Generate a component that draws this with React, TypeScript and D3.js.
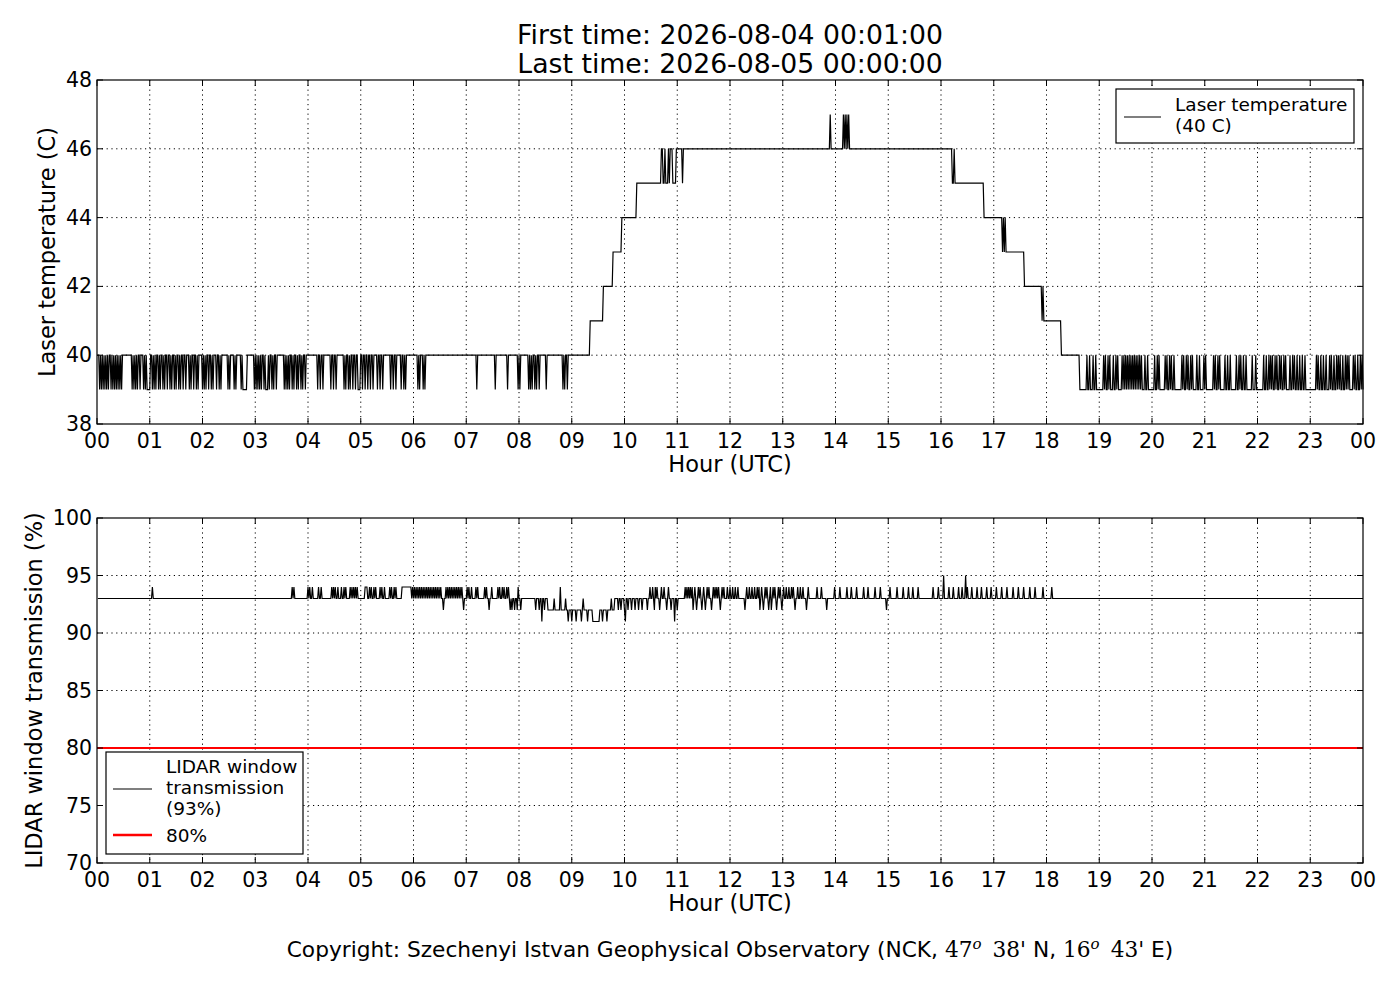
import { useMemo } from 'react';
import * as d3 from 'd3';

// Hour ticks (UTC) shared by both panels
const hourTicks = [0, 1, 2, 3, 4, 5, 6, 7, 8, 9, 10, 11, 12, 13, 14, 15, 16, 17, 18, 19, 20, 21, 22, 23, 24];
const hourTickLabels = ['00', '01', '02', '03', '04', '05', '06', '07', '08', '09', '10', '11', '12', '13', '14', '15', '16', '17', '18', '19', '20', '21', '22', '23', '00'];

const tempTicks = [38, 40, 42, 44, 46, 48];
const transTicks = [70, 75, 80, 85, 90, 95, 100];

// Laser temperature: level changes [minute of day, degC]
const laserSteps: [number, number][] = [
  [0, 40], [561, 41], [576, 42], [587, 43], [597, 44], [614, 45], [652, 46],
  [973, 45], [1009, 44], [1030, 43], [1055, 42], [1075, 41], [1097, 40], [1118, 39],
];

// single-minute readings one degree below the level
const laserDips = [
  3, 5, 7, 9, 11, 13, 16, 18, 20, 22, 24, 26, 28, 40, 42, 44, 46, 49, 53, 55, 57, 58, 59, 60,
  63, 65, 67, 70, 72, 75, 77, 80, 83, 85, 88, 90, 93, 95, 98, 101, 105, 107, 110, 113, 115,
  120, 122, 124, 127, 130, 132, 136, 139, 141, 149, 151, 156, 158, 164, 166, 167, 168, 169, 170,
  179, 181, 183, 185, 187, 190, 192, 193, 194, 196, 199, 201, 204, 213, 215, 217, 219, 222, 224,
  227, 229, 232, 234, 237, 251, 254, 257, 266, 269, 272, 281, 283, 286, 288, 291, 294, 297, 298,
  299, 302, 305, 308, 311, 314, 319, 322, 325, 334, 337, 340, 346, 349, 351, 365, 367, 371, 373,
  432, 453, 467, 479, 481, 491, 493, 495, 498, 500, 503, 511, 530, 532, 535,
  655, 656, 657, 658, 666,
];

// single-minute readings one degree above the level
const laserSpikes = [
  642, 643, 646, 650, 834, 849, 851, 853, 855, 975, 1031, 1033, 1076,
  1126, 1129, 1133, 1136, 1145, 1147, 1150, 1152, 1156, 1159, 1161, 1166, 1168, 1170, 1172, 1174,
  1176, 1178, 1180, 1182, 1184, 1186, 1188, 1192, 1195, 1203, 1206, 1208, 1215, 1217, 1220, 1222,
  1225, 1234, 1236, 1239, 1241, 1244, 1246, 1251, 1254, 1259, 1261, 1270, 1272, 1275, 1277, 1283,
  1286, 1289, 1296, 1299, 1301, 1304, 1307, 1314, 1318, 1327, 1330, 1333, 1335, 1337, 1340, 1342,
  1345, 1347, 1350, 1352, 1357, 1360, 1362, 1365, 1368, 1371, 1374, 1387, 1389, 1392, 1395, 1398,
  1402, 1404, 1407, 1410, 1412, 1414, 1417, 1420, 1422, 1424, 1429, 1431, 1434, 1437, 1439,
];

// LIDAR window transmission: level changes [minute, %]
const windowSteps: [number, number][] = [[0, 93], [513, 92], [589, 93]];

// single-minute readings [minute, %]
const windowEvents: [number, number][] = [
  [63, 94], [222, 94], [224, 94], [240, 94], [242, 94], [245, 94], [252, 94], [255, 94],
  [267, 94], [269, 94], [271, 94], [274, 94], [278, 94], [281, 94], [283, 94],
  [288, 94], [290, 94], [292, 94], [294, 94], [296, 94],
  [305, 94], [306, 94], [307, 94], [310, 94], [312, 94], [315, 94], [317, 94],
  [322, 94], [324, 94], [327, 94], [333, 94], [335, 94], [338, 94], [340, 94],
  [347, 94], [348, 94], [349, 94], [350, 94], [351, 94], [352, 94], [353, 94], [354, 94],
  [355, 94], [356, 94], [357, 94],
  [359, 94], [361, 94], [363, 94], [365, 94], [367, 94], [369, 94], [371, 94], [373, 94],
  [375, 94], [377, 94], [379, 94], [381, 94], [383, 94], [385, 94], [387, 94], [389, 94],
  [391, 94], [394, 92], [397, 94], [399, 94], [401, 94], [403, 94], [405, 94], [407, 94],
  [409, 94], [411, 94], [413, 94], [415, 94], [417, 92],
  [421, 94], [423, 94], [426, 94], [431, 94], [433, 94], [441, 94], [443, 94], [446, 92], [449, 94],
  [456, 94], [458, 94], [461, 94], [463, 94], [466, 94], [468, 94],
  [470, 92], [472, 92], [475, 92], [478, 92], [479, 94], [482, 92],
  [499, 92], [503, 92], [506, 91], [509, 92],
  [520, 93], [527, 94], [533, 93], [536, 91], [540, 91], [545, 91], [551, 91], [553, 93], [558, 91],
  [564, 91], [565, 91], [566, 91], [567, 91], [568, 91], [569, 91], [570, 91], [571, 91],
  [575, 91], [580, 91], [585, 93],
  [593, 92], [596, 92], [600, 92], [601, 91], [604, 92], [608, 92], [612, 92], [616, 92],
  [620, 92], [626, 92], [629, 94], [632, 94], [634, 92], [635, 94], [637, 94], [640, 92],
  [642, 94], [645, 94], [648, 92], [650, 94], [653, 92], [657, 91], [660, 92],
  [669, 94], [671, 94], [673, 94], [675, 94], [677, 94], [678, 92], [680, 94], [682, 92],
  [684, 94], [686, 94], [688, 92], [690, 94], [692, 92], [694, 94], [696, 94], [699, 92],
  [701, 94], [703, 94], [705, 94], [707, 94], [709, 92], [711, 94], [713, 94],
  [717, 94], [720, 94], [723, 94], [726, 94], [729, 94], [737, 92],
  [739, 94], [742, 94], [745, 94], [748, 94],
  [751, 94], [753, 94], [754, 92], [756, 94], [758, 92], [760, 94], [762, 94], [764, 92],
  [766, 94], [767, 92], [769, 94], [771, 94], [773, 92], [775, 94], [777, 94], [779, 92], [781, 94],
  [784, 94], [787, 94], [790, 94], [792, 94], [794, 92], [797, 94], [800, 94], [803, 94], [807, 92],
  [809, 94], [819, 94], [824, 94], [830, 92],
  [839, 94], [845, 94], [853, 94], [858, 94], [864, 94], [872, 94], [877, 94], [885, 94], [891, 94],
  [898, 92], [902, 94], [910, 94], [917, 94], [923, 94], [928, 94], [934, 94],
  [951, 94], [957, 94], [963, 95], [969, 94], [974, 94], [980, 94], [984, 94], [988, 95], [990, 94],
  [995, 94], [1001, 94], [1006, 94], [1012, 94], [1017, 94], [1023, 94], [1029, 94], [1035, 94],
  [1042, 94], [1048, 94], [1054, 94], [1061, 94], [1067, 94], [1076, 94], [1086, 94],
];

const FONT = '"DejaVu Sans", sans-serif';
const MATH = '"DejaVu Serif", "Liberation Serif", serif';

const left = 97;
const right = 1363;
const topPanel = { y0: 80, y1: 424 };
const botPanel = { y0: 518, y1: 863 };

function levelAt(steps: [number, number][], m: number) {
  let v = steps[0][1];
  for (const [s, val] of steps) if (m >= s) v = val;
  return v;
}

// sampled each minute from 00:01 to 24:00
function laserSeries() {
  const dips = new Set(laserDips);
  const spikes = new Set(laserSpikes);
  const out: [number, number][] = [];
  for (let m = 1; m <= 1440; m++) {
    let v = levelAt(laserSteps, m);
    if (dips.has(m)) v -= 1;
    if (spikes.has(m)) v += 1;
    out.push([m, v]);
  }
  return out;
}

function windowSeries() {
  const ev = new Map(windowEvents);
  const out: [number, number][] = [];
  for (let m = 1; m <= 1440; m++) {
    out.push([m, ev.has(m) ? (ev.get(m) as number) : levelAt(windowSteps, m)]);
  }
  return out;
}

function Panel({
  y0, y1, yDomain, yTicks, data, yLabel, labelX, children,
}: {
  y0: number; y1: number; yDomain: [number, number]; yTicks: number[];
  data: [number, number][]; yLabel: string; labelX: number; children?: any;
}) {
  const x = d3.scaleLinear().domain([0, 24]).range([left, right]);
  const y = d3.scaleLinear().domain(yDomain).range([y1, y0]);
  const line = d3.line<[number, number]>().x((d) => x(d[0] / 60)).y((d) => y(d[1]));
  const tick = 6;
  return (
    <g>
      {/* grid */}
      {hourTicks.slice(1, -1).map((h) => (
        <line key={'gx' + h} x1={x(h)} x2={x(h)} y1={y0} y2={y1} stroke="#000" strokeWidth={1} strokeDasharray="1.2,3.6" />
      ))}
      {yTicks.slice(1, -1).map((t) => (
        <line key={'gy' + t} x1={left} x2={right} y1={y(t)} y2={y(t)} stroke="#000" strokeWidth={1} strokeDasharray="1.2,3.6" />
      ))}
      <path d={line(data) || ''} fill="none" stroke="#000" strokeWidth={1.2} />
      {children && children(x, y)}
      {/* ticks, inward on all four sides */}
      {hourTicks.map((h) => (
        <g key={'tx' + h}>
          <line x1={x(h)} x2={x(h)} y1={y1} y2={y1 - tick} stroke="#000" />
          <line x1={x(h)} x2={x(h)} y1={y0} y2={y0 + tick} stroke="#000" />
        </g>
      ))}
      {yTicks.map((t) => (
        <g key={'ty' + t}>
          <line x1={left} x2={left + tick} y1={y(t)} y2={y(t)} stroke="#000" />
          <line x1={right} x2={right - tick} y1={y(t)} y2={y(t)} stroke="#000" />
        </g>
      ))}
      <rect x={left} y={y0} width={right - left} height={y1 - y0} fill="none" stroke="#000" strokeWidth={1.2} />
      {hourTicks.map((h, i) => (
        <text key={'lx' + h} x={x(h)} y={y1 + 24} textAnchor="middle" fontSize={20.5} fontFamily={FONT}>
          {hourTickLabels[i]}
        </text>
      ))}
      {yTicks.map((t) => (
        <text key={'ly' + t} x={left - 5} y={y(t) + 7} textAnchor="end" fontSize={20.5} fontFamily={FONT}>
          {t}
        </text>
      ))}
      <text x={(left + right) / 2} y={y1 + 48} textAnchor="middle" fontSize={22.5} fontFamily={FONT}>
        Hour (UTC)
      </text>
      <text
        transform={`translate(${labelX},${(y0 + y1) / 2}) rotate(-90)`}
        textAnchor="middle" fontSize={22.5} fontFamily={FONT}
      >
        {yLabel}
      </text>
    </g>
  );
}

export default function App() {
  const laser = useMemo(laserSeries, []);
  const win = useMemo(windowSeries, []);
  const cx = (left + right) / 2;

  return (
    <svg width={1400} height={1000} style={{ position: 'absolute', left: 0, top: 0, background: '#fff' }}>
      <rect width={1400} height={1000} fill="#fff" />
      <text x={cx} y={44} textAnchor="middle" fontSize={26.7} fontFamily={FONT}>First time: 2026-08-04 00:01:00</text>
      <text x={cx} y={73} textAnchor="middle" fontSize={26.7} fontFamily={FONT}>Last time: 2026-08-05 00:00:00</text>

      <Panel
        y0={topPanel.y0} y1={topPanel.y1} yDomain={[38, 48]} yTicks={tempTicks}
        data={laser} yLabel="Laser temperature (C)" labelX={55}
      />
      {/* top legend */}
      <g fontFamily={FONT} fontSize={18.5}>
        <rect x={1116} y={89} width={238} height={54} fill="#fff" stroke="#000" strokeWidth={1.2} />
        <line x1={1124} x2={1161} y1={117} y2={117} stroke="#000" strokeWidth={1.2} />
        <text x={1175} y={111}>Laser temperature</text>
        <text x={1175} y={132}>(40 C)</text>
      </g>

      <Panel
        y0={botPanel.y0} y1={botPanel.y1} yDomain={[70, 100]} yTicks={transTicks}
        data={win} yLabel="LIDAR window transmission (%)" labelX={42}
      >
        {(x: any, y: any) => (
          <line x1={x(0)} x2={x(24)} y1={y(80)} y2={y(80)} stroke="#ff0000" strokeWidth={2.2} />
        )}
      </Panel>
      {/* bottom legend */}
      <g fontFamily={FONT} fontSize={18.5}>
        <rect x={106} y={752} width={197} height={102} fill="#fff" stroke="#000" strokeWidth={1.2} />
        <line x1={113} x2={152} y1={789} y2={789} stroke="#000" strokeWidth={1.2} />
        <text x={166} y={773}>LIDAR window</text>
        <text x={166} y={794}>transmission</text>
        <text x={166} y={815}>(93%)</text>
        <line x1={113} x2={152} y1={835} y2={835} stroke="#ff0000" strokeWidth={2.6} />
        <text x={166} y={842}>80%</text>
      </g>

      <text x={cx} y={957} textAnchor="middle" fontSize={21.7} fontFamily={FONT}>
        Copyright: Szechenyi Istvan Geophysical Observatory (NCK,{' '}
        <tspan fontFamily={MATH}>47</tspan>
        <tspan fontFamily={MATH} fontSize={15} fontStyle="italic" dy={-8}>o</tspan>
        <tspan fontFamily={MATH} dy={8} dx={11}>38'</tspan> N,{' '}
        <tspan fontFamily={MATH}>16</tspan>
        <tspan fontFamily={MATH} fontSize={15} fontStyle="italic" dy={-8}>o</tspan>
        <tspan fontFamily={MATH} dy={8} dx={11}>43'</tspan> E)
      </text>
    </svg>
  );
}
